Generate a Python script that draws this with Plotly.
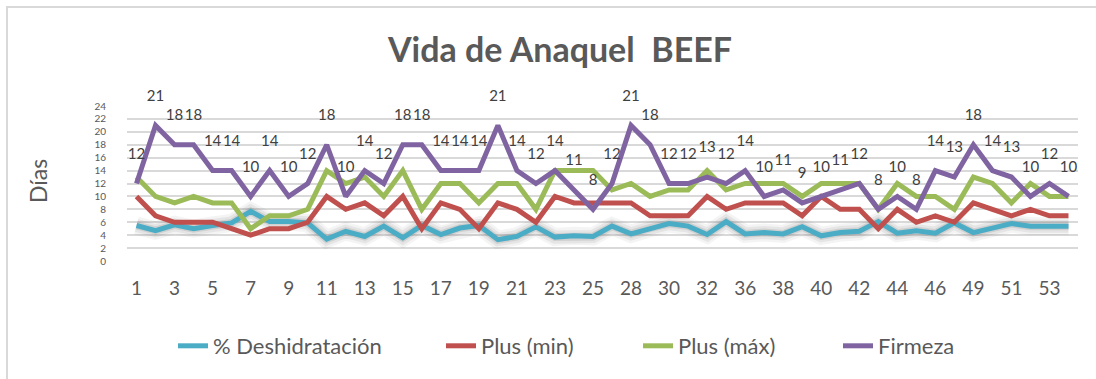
import plotly.graph_objects as go

# Día de muestreo (eje de categorías)
dias = [1, 2, 3, 4, 5, 6, 7, 8, 9, 10, 11, 12, 13, 14, 15, 16, 17, 18, 19, 20,
        21, 22, 23, 24, 25, 27, 28, 29, 30, 31, 32, 34, 36, 37, 38, 39, 40, 41,
        42, 43, 44, 45, 46, 48, 49, 50, 51, 52, 53, 54]

deshidratacion = [5.5, 4.7, 5.6, 5.0, 5.5, 5.9, 7.7, 6.1, 6.1, 5.9, 3.4, 4.6, 3.8, 5.4,
                  3.6, 5.5, 4.1, 5.1, 5.5, 3.3, 3.8, 5.3, 3.7, 3.9, 3.8, 5.4, 4.2, 5.1, 5.8,
                  5.4, 4.1, 6.1, 4.2, 4.4, 4.2, 5.3, 3.9, 4.4, 4.6, 6.1, 4.3, 4.7, 4.3, 5.9,
                  4.4, 5.1, 5.8, 5.4, 5.4, 5.4]

plus_min = [10, 7, 6, 6, 6, 5, 4, 5, 5, 6, 10, 8, 9, 7,
            10, 5, 9, 8, 5, 9, 8, 6, 10, 9, 9, 9, 9, 7, 7,
            7, 10, 8, 9, 9, 9, 7, 10, 8, 8, 5, 8, 6, 7, 6,
            9, 8, 7, 8, 7, 7]

plus_max = [13, 10, 9, 10, 9, 9, 5, 7, 7, 8, 14, 12, 13, 10,
            14, 8, 12, 12, 9, 12, 12, 8, 14, 14, 14, 11, 12, 10, 11,
            11, 14, 11, 12, 12, 12, 10, 12, 12, 12, 8, 12, 10, 10, 8,
            13, 12, 9, 12, 10, 10]

firmeza = [12, 21, 18, 18, 14, 14, 10, 14, 10, 12, 18, 10, 14, 12, 18, 18, 14, 14, 14, 21,
           14, 12, 14, 11, 8, 12, 21, 18, 12, 12, 13, 12, 14, 10, 11, 9, 10, 11, 12, 8,
           10, 8, 14, 13, 18, 14, 13, 10, 12, 10]

y_ticks = list(range(0, 25, 2))

FONT = "Lato"
GRAY_TXT = "#595959"
GRID = "#D9D9D9"

# plot area in pixels
L, R, T, B = 127, 18, 106, 118
W, H = 1096, 379
PW, PH = W - L - R, H - T - B


def px_x(px):
    return (px - L) / PW


def px_y(py):
    return (H - B - py) / PH


cats = [str(d) for d in dias]

fig = go.Figure()

# soft shadow behind the dehydration line
for w, a in [(18, 0.06), (13, 0.08), (8, 0.12)]:
    fig.add_trace(go.Scatter(x=cats, y=deshidratacion, mode="lines",
                             line=dict(color=f"rgba(60,60,60,{a})", width=w),
                             hoverinfo="skip", showlegend=False))

series = [
    ("% Deshidratación", deshidratacion, "#4BACC6", "legend"),
    ("Plus (min)", plus_min, "#C0504D", "legend2"),
    ("Plus (máx)", plus_max, "#9BBB59", "legend3"),
]
for name, vals, color, lg in series:
    fig.add_trace(go.Scatter(x=cats, y=vals, mode="lines", name=name, legend=lg,
                             line=dict(color=color, width=5)))

fig.add_trace(go.Scatter(x=cats, y=firmeza, mode="lines+markers+text", name="Firmeza",
                         legend="legend4",
                         line=dict(color="#8064A2", width=5),
                         marker=dict(size=32, color="rgba(0,0,0,0)"),
                         text=[str(v) for v in firmeza], textposition="top center",
                         cliponaxis=False,
                         textfont=dict(family=FONT, size=15, color="#404040")))

legend_style = dict(orientation="h", xanchor="left", yanchor="middle", y=px_y(346),
                    font=dict(family=FONT, size=22, color=GRAY_TXT),
                    bgcolor="rgba(0,0,0,0)")
text_starts = [215, 483, 680, 880]

fig.update_layout(
    width=W, height=H,
    margin=dict(l=L, r=R, t=T, b=B),
    paper_bgcolor="white", plot_bgcolor="white",
    font=dict(family=FONT, color=GRAY_TXT),
    title=dict(text="<b>Vida de Anaquel  BEEF</b>", x=560 / W,
               xanchor="center", y=1 - 50 / H, yanchor="middle",
               font=dict(family=FONT, size=34, color=GRAY_TXT)),
    showlegend=True,
    legend=dict(legend_style, x=px_x(text_starts[0] - 42)),
    legend2=dict(legend_style, x=px_x(text_starts[1] - 42)),
    legend3=dict(legend_style, x=px_x(text_starts[2] - 42)),
    legend4=dict(legend_style, x=px_x(text_starts[3] - 42)),
    xaxis=dict(type="category", categoryorder="array", categoryarray=cats,
               range=[-0.5, len(cats) - 0.5],
               tickmode="array", tickvals=cats[::2], ticktext=cats[::2],
               showgrid=False, showline=False, zeroline=False, ticks="",
               tickfont=dict(family=FONT, size=19, color=GRAY_TXT), ticklabelstandoff=14),
    yaxis=dict(range=[0, 24], tickmode="array", tickvals=y_ticks,
               showgrid=True, gridcolor=GRID, gridwidth=2, zeroline=False,
               showline=False, ticks="",
               tickfont=dict(family=FONT, size=10, color=GRAY_TXT), ticklabelstandoff=20),
    annotations=[dict(text="Días", textangle=-90, xref="paper", yref="paper",
                      x=px_x(38), y=px_y(181), xanchor="center", yanchor="middle",
                      showarrow=False,
                      font=dict(family=FONT, size=23, color=GRAY_TXT))],
    shapes=[dict(type="rect", xref="paper", yref="paper",
                 x0=px_x(7), x1=px_x(1200), y0=px_y(500), y1=px_y(7),
                 line=dict(color=GRID, width=2), layer="below")],
)

fig.write_html("out.html")
